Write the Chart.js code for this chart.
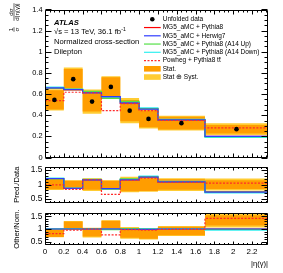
<!DOCTYPE html>
<html>
<head>
<meta charset="utf-8">
<script src="https://cdn.jsdelivr.net/npm/chart.js@4.4.0/dist/chart.umd.min.js"></script>
<style>
  body { margin: 0; background: #fff; }
  #wrap { position: relative; width: 283px; height: 273px; }
  canvas { position: absolute; left: 0; }
</style>
</head>
<body>
<div id="wrap">
  <canvas id="main" width="283" height="165" style="top:0px"></canvas>
  <canvas id="ratio" width="283" height="46" style="top:161px"></canvas>
  <canvas id="other" width="283" height="68" style="top:205px"></canvas>
</div>
<script>
// bin edges of |eta(gamma)|
const edges = [0, 0.2, 0.4, 0.6, 0.8, 1.0, 1.2, 1.7, 2.37];

// main panel: normalised cross-section
const dataMain = [0.545, 0.741, 0.529, 0.668, 0.443, 0.365, 0.325, 0.268];
const statMain = [0.09, 0.095, 0.095, 0.09, 0.1, 0.08, 0.06, 0.04];
const totMain = [0.1, 0.11, 0.115, 0.1, 0.12, 0.09, 0.07, 0.055];
const predPythia = [0.655, 0.643, 0.615, 0.572, 0.52, 0.462, 0.355, 0.2];
const predHerwig = [0.658, 0.643, 0.612, 0.575, 0.515, 0.458, 0.355, 0.2];
const predUp = [0.655, 0.645, 0.625, 0.56, 0.53, 0.462, 0.358, 0.198];
const predDown = [0.665, 0.648, 0.62, 0.57, 0.525, 0.47, 0.36, 0.19];
const predPowheg = [0.538, 0.617, 0.612, 0.443, 0.51, 0.443, 0.35, 0.28];

// Pred./Data panel
const r1Pythia = [1.20, 0.87, 1.16, 0.86, 1.17, 1.27, 1.09, 0.75];
const r1Herwig = [1.21, 0.87, 1.16, 0.86, 1.16, 1.26, 1.09, 0.74];
const r1Up = [1.20, 0.87, 1.18, 0.84, 1.20, 1.27, 1.10, 0.74];
const r1Down = [1.22, 0.88, 1.17, 0.85, 1.19, 1.29, 1.11, 0.71];
const r1Powheg = [0.99, 0.83, 1.16, 0.66, 1.15, 1.22, 1.08, 1.05];
const r1Center = [1, 1, 1, 1, 1, 1, 1, 1];
const r1Stat = [0.165, 0.13, 0.18, 0.135, 0.23, 0.22, 0.18, 0.15];
const r1Tot = [0.185, 0.15, 0.22, 0.15, 0.27, 0.25, 0.22, 0.21];

// Other/Nom. panel
const r2Pythia = [1, 1, 1, 1, 1, 1, 1, 1];
const r2Herwig = [1.0, 1.0, 1.0, 1.0, 0.99, 0.99, 1.0, 1.0];
const r2Up = [1.0, 1.0, 1.02, 0.98, 1.02, 1.0, 1.0, 0.99];
const r2Down = [1.01, 1.01, 1.01, 1.0, 1.01, 1.02, 1.01, 0.96];
const r2Powheg = [0.82, 0.96, 1.0, 0.77, 0.98, 0.96, 0.99, 1.42];
const r2Data = [0.83, 1.15, 0.86, 1.17, 0.85, 0.79, 0.92, 1.34];
const r2Stat = [0.14, 0.15, 0.155, 0.16, 0.19, 0.17, 0.17, 0.2];
const r2Tot = [0.155, 0.17, 0.19, 0.18, 0.23, 0.2, 0.2, 0.28];

// tick labels
const xTicks = [0, 0.2, 0.4, 0.6, 0.8, 1, 1.2, 1.4, 1.6, 1.8, 2, 2.2];
const mainYTicks = [0, 0.2, 0.4, 0.6, 0.8, 1, 1.2, 1.4];
const ratioYTicks = [0.5, 1, 1.5];

const FONT = "'Liberation Sans', Arial, sans-serif";
Chart.defaults.font.family = FONT;
Chart.defaults.color = '#000';

const colors = {
  pythia: '#ff0000',
  herwig: '#2f3cff',
  up: '#55e048',
  down: '#30f0f0',
  powheg: '#ff2a2a',
  stat: '#ff9d00',
  tot: '#ffcc33'
};

function steps(vals) {
  return edges.map((x, i) => ({ x: x, y: vals[Math.min(i, vals.length - 1)] }));
}

function histLine(label, vals, color, order, dash) {
  return {
    label: label, data: steps(vals), borderColor: color, borderWidth: 1.2,
    borderDash: dash || [], stepped: true, pointRadius: 0, fill: false, order: order
  };
}

function band(label, center, err, color, order) {
  return [
    {
      label: label, data: steps(center.map((c, i) => c + err[i])), stepped: true,
      pointRadius: 0, borderWidth: 0, borderColor: 'rgba(0,0,0,0)',
      backgroundColor: color, fill: '+1', order: order
    },
    {
      label: label + ' low', data: steps(center.map((c, i) => c - err[i])), stepped: true,
      pointRadius: 0, borderWidth: 0, borderColor: 'rgba(0,0,0,0)', fill: false, order: order
    }
  ];
}

// frame with inward ticks on all four sides
const frameTicks = {
  id: 'frameTicks',
  afterDatasetsDraw(chart, args, o) {
    const { ctx, chartArea: a, scales: { x, y } } = chart;
    const L = Math.round(a.left) + 0.5, R = Math.round(a.right) - 0.5;
    const T = Math.round(a.top) + 0.5, B = Math.round(a.bottom) - 0.5;
    ctx.save();
    ctx.strokeStyle = '#000';
    ctx.lineWidth = 1;
    ctx.beginPath();
    let ratio = Math.round(o.xMajor / o.xMinor);
    for (let k = Math.ceil(x.min / o.xMinor - 1e-6); k * o.xMinor <= x.max + 1e-9; k++) {
      const px = Math.round(x.getPixelForValue(k * o.xMinor)) + 0.5;
      const len = k % ratio === 0 ? o.xLen : o.xLen / 2;
      ctx.moveTo(px, B); ctx.lineTo(px, B - len);
      ctx.moveTo(px, T); ctx.lineTo(px, T + len);
    }
    ratio = Math.round(o.yMajor / o.yMinor);
    for (let k = Math.ceil(y.min / o.yMinor - 1e-6); k * o.yMinor <= y.max + 1e-9; k++) {
      const py = Math.round(y.getPixelForValue(k * o.yMinor)) + 0.5;
      const len = k % ratio === 0 ? o.yLen : o.yLen / 2;
      ctx.moveTo(L, py); ctx.lineTo(L + len, py);
      ctx.moveTo(R, py); ctx.lineTo(R - len, py);
    }
    ctx.rect(L, T, R - L, B - T);
    ctx.stroke();
    ctx.restore();
  }
};

function yScale(min, max, ticks, size, title) {
  return {
    type: 'linear', min: min, max: max,
    afterBuildTicks: s => { s.ticks = ticks.map(v => ({ value: v })); },
    afterFit: s => { s.width = 45; s.paddingTop = 0; s.paddingBottom = 0; },
    grid: { display: false, drawTicks: false },
    border: { display: false },
    ticks: { font: { size: size }, padding: 2.5, callback: v => String(+v.toFixed(2)) },
    title: title ? { display: true, text: title, font: { size: 7.6 }, padding: { top: 12, bottom: 0 } } : { display: false }
  };
}

const hiddenX = { type: 'linear', min: 0, max: 2.37, display: false };

const baseOptions = {
  responsive: false,
  animation: false,
  devicePixelRatio: 1,
  events: []
};

// main panel
const centers = edges.slice(0, -1).map((e, i) => (e + edges[i + 1]) / 2);
const mainChart = new Chart(document.getElementById('main'), {
  type: 'line',
  data: {
    datasets: [
      {
        label: 'Unfolded data', data: centers.map((c, i) => ({ x: c, y: dataMain[i] })),
        showLine: false, pointRadius: 2.3, pointBackgroundColor: '#000', pointBorderWidth: 0, order: 0
      },
      histLine('MG5_aMC + Pythia8', predPythia, colors.pythia, 5),
      histLine('MG5_aMC + Herwig7', predHerwig, colors.herwig, 2),
      histLine('MG5_aMC + Pythia8 (A14 Up)', predUp, colors.up, 3),
      histLine('MG5_aMC + Pythia8 (A14 Down)', predDown, colors.down, 4),
      histLine('Powheg + Pythia8 tt\u0304', predPowheg, colors.powheg, 1, [2, 1.5]),
      ...band('Stat.', dataMain, statMain, colors.stat, 6),
      ...band('Stat \u2295 Syst.', dataMain, totMain, colors.tot, 7)
    ]
  },
  options: {
    ...baseOptions,
    layout: { padding: { left: 0, right: 15, top: 9.5, bottom: 7.5 } },
    scales: { x: hiddenX, y: yScale(0, 1.4, mainYTicks, 7.4) },
    plugins: {
      legend: { display: false },
      tooltip: { enabled: false },
      frameTicks: { xMinor: 0.05, xMajor: 0.2, xLen: 4, yMinor: 0.05, yMajor: 0.2, yLen: 6 }
    }
  },
  plugins: [frameTicks, {
    id: 'mainText',
    afterDraw(chart) {
      const ctx = chart.ctx;
      const ds = chart.data.datasets;
      ctx.save();
      ctx.fillStyle = '#000';
      ctx.textBaseline = 'middle';
      ctx.textAlign = 'left';
      ctx.font = 'italic bold 7.6px ' + FONT;
      ctx.fillText('ATLAS', 54, 22.7);
      ctx.font = '7.6px ' + FONT;
      const s = '\u221as = 13 TeV, 36.1 fb';
      ctx.fillText(s, 54, 31.7);
      const w = ctx.measureText(s).width;
      ctx.fillText('Normalized cross-section', 54, 41.7);
      ctx.fillText('Dilepton', 54, 51.7);
      ctx.font = '5.2px ' + FONT;
      ctx.fillText('-1', 54 + w + 0.3, 29.4);

      // legend
      const items = [
        [0, 'dot'], [1, 'line'], [2, 'line'], [3, 'line'], [4, 'line'], [5, 'line'], [6, 'box'], [8, 'box']
      ];
      ctx.font = '6.5px ' + FONT;
      items.forEach(([idx, kind], i) => {
        const d = ds[idx];
        const y = 19.3 + i * 8.25;
        if (kind === 'dot') {
          ctx.beginPath();
          ctx.arc(152.3, y, 2.3, 0, Math.PI * 2);
          ctx.fillStyle = '#000';
          ctx.fill();
        } else if (kind === 'line') {
          ctx.beginPath();
          ctx.strokeStyle = d.borderColor;
          ctx.lineWidth = d.borderWidth;
          ctx.setLineDash(d.borderDash);
          ctx.moveTo(144, y);
          ctx.lineTo(160.7, y);
          ctx.stroke();
          ctx.setLineDash([]);
        } else {
          ctx.fillStyle = d.backgroundColor;
          ctx.fillRect(144, y - 2.8, 16.7, 5.6);
        }
        ctx.fillStyle = '#000';
        ctx.fillText(d.label, 162.7, y);
      });

      // y title: 1/sigma dsigma/d|eta(gamma)|
      ctx.translate(14, 0);
      ctx.rotate(-Math.PI / 2);
      ctx.font = '6.2px ' + FONT;
      ctx.textAlign = 'center';
      ctx.fillText('1', -29.5, -3.2);
      ctx.fillText('\u03c3', -29.5, 3.3);
      ctx.fillText('d\u03c3', -12, -3.2);
      ctx.fillText('d|\u03b7(\u03b3)|', -12, 3.3);
      ctx.beginPath();
      ctx.strokeStyle = '#000';
      ctx.lineWidth = 0.6;
      ctx.moveTo(-31.8, 0); ctx.lineTo(-27.2, 0);
      ctx.moveTo(-20.8, 0); ctx.lineTo(-3.2, 0);
      ctx.stroke();
      ctx.restore();
    }
  }]
});

// Pred./Data panel
new Chart(document.getElementById('ratio'), {
  type: 'line',
  data: {
    datasets: [
      histLine('MG5_aMC + Pythia8', r1Pythia, colors.pythia, 5),
      histLine('MG5_aMC + Herwig7', r1Herwig, colors.herwig, 2),
      histLine('MG5_aMC + Pythia8 (A14 Up)', r1Up, colors.up, 3),
      histLine('MG5_aMC + Pythia8 (A14 Down)', r1Down, colors.down, 4),
      histLine('Powheg + Pythia8 tt\u0304', r1Powheg, colors.powheg, 1, [2, 1.5]),
      ...band('Stat.', r1Center, r1Stat, colors.stat, 6),
      ...band('Stat \u2295 Syst.', r1Center, r1Tot, colors.tot, 7)
    ]
  },
  options: {
    ...baseOptions,
    layout: { padding: { left: 0, right: 15, top: 5.7, bottom: 4.3 } },
    scales: { x: hiddenX, y: yScale(0.37, 1.62, ratioYTicks, 8.4, 'Pred./Data') },
    plugins: {
      legend: { display: false },
      tooltip: { enabled: false },
      frameTicks: { xMinor: 0.05, xMajor: 0.2, xLen: 3, yMinor: 0.1, yMajor: 0.5, yLen: 6 }
    }
  },
  plugins: [frameTicks]
});

// Other/Nom. panel
new Chart(document.getElementById('other'), {
  type: 'line',
  data: {
    datasets: [
      histLine('MG5_aMC + Pythia8', r2Pythia, colors.pythia, 5),
      histLine('MG5_aMC + Herwig7', r2Herwig, colors.herwig, 2),
      histLine('MG5_aMC + Pythia8 (A14 Up)', r2Up, colors.up, 3),
      histLine('MG5_aMC + Pythia8 (A14 Down)', r2Down, colors.down, 4),
      histLine('Powheg + Pythia8 tt\u0304', r2Powheg, colors.powheg, 1, [2, 1.5]),
      ...band('Stat.', r2Data, r2Stat, colors.stat, 6),
      ...band('Stat \u2295 Syst.', r2Data, r2Tot, colors.tot, 7)
    ]
  },
  options: {
    ...baseOptions,
    layout: { padding: { left: 0, right: 15, top: 8.3, bottom: 0 } },
    scales: {
      x: {
        type: 'linear', min: 0, max: 2.37,
        afterBuildTicks: s => { s.ticks = xTicks.map(v => ({ value: v })); },
        afterFit: s => { s.height = 28; s.paddingLeft = 0; s.paddingRight = 0; },
        grid: { display: false, drawTicks: false },
        border: { display: false },
        ticks: { font: { size: 8 }, padding: 1.5, maxRotation: 0, autoSkip: false, callback: v => String(+v.toFixed(2)) },
        title: { display: true, text: '|\u03b7(\u03b3)|', align: 'end', font: { size: 7.6 }, padding: { top: 0, bottom: 5 } }
      },
      y: yScale(0.37, 1.62, ratioYTicks, 8.4, 'Other/Nom.')
    },
    plugins: {
      legend: { display: false },
      tooltip: { enabled: false },
      frameTicks: { xMinor: 0.05, xMajor: 0.2, xLen: 3, yMinor: 0.1, yMajor: 0.5, yLen: 6 }
    }
  },
  plugins: [frameTicks]
});
</script>
</body>
</html>
